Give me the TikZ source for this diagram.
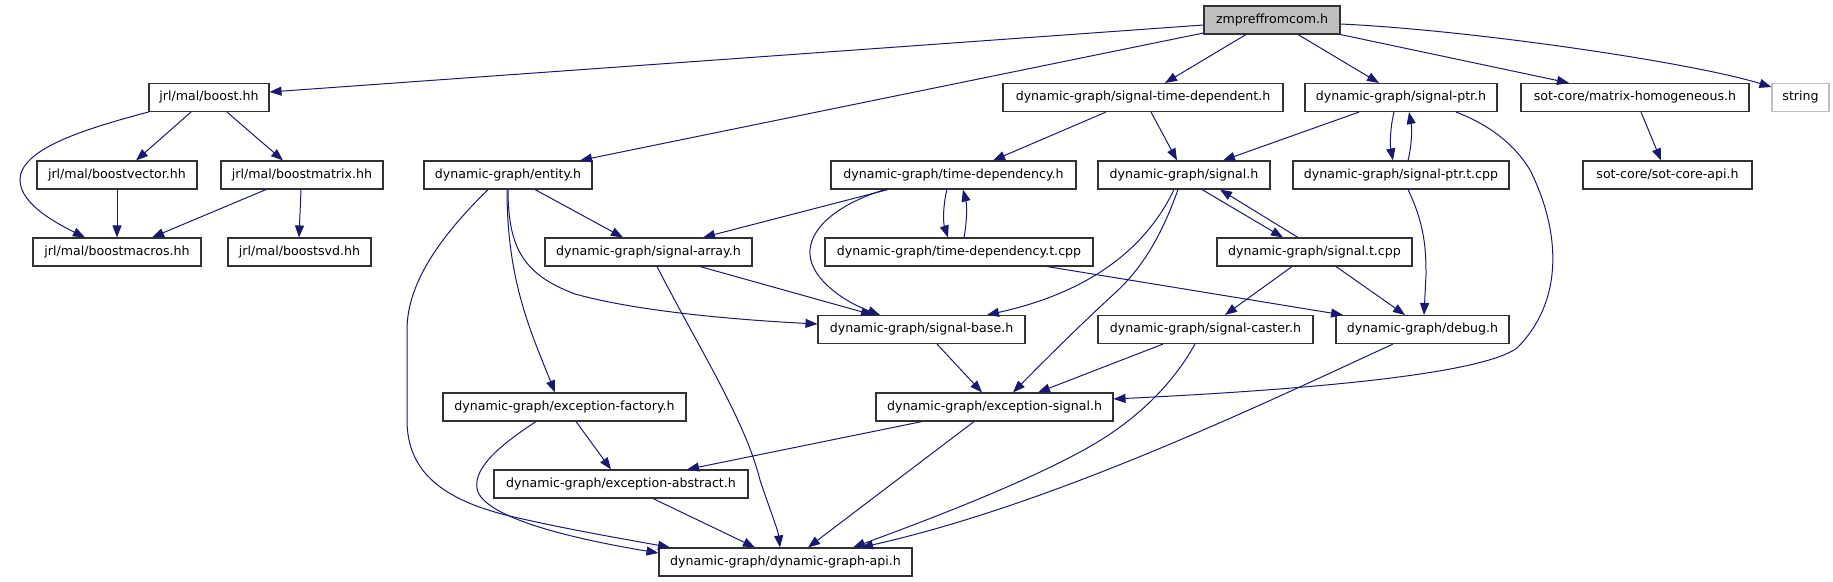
\documentclass[tikz,border=0pt]{standalone}
\usepackage{fontspec}
\setmainfont{DejaVu Sans}
\usetikzlibrary{arrows.meta}
\definecolor{edgeblue}{RGB}{25,25,112}
\definecolor{boxgray}{RGB}{191,191,191}
\definecolor{boxline}{RGB}{50,50,50}
\begin{document}
\begin{tikzpicture}[x=1pt,y=-1pt,
  file/.style={draw=boxline,line width=1.1pt,minimum height=28pt,inner sep=0pt,font=\fontsize{12.6}{14}\selectfont},
  e/.style={draw=edgeblue,line width=1pt,-{Triangle[length=12pt,width=9pt]}}]
\useasboundingbox (0,0) rectangle (1833,581);
% row 0
\node[file,fill=boxgray,minimum width=136pt] (zmp) at (1272,20) {zmpreffromcom.h};
% row 1
\node[file,minimum width=120pt] (boost) at (209,97.5) {jrl/mal/boost.hh};
\node[file,minimum width=280pt] (std) at (1143,97.5) {dynamic-graph/signal-time-dependent.h};
\node[file,minimum width=192pt] (sptr) at (1401,97.5) {dynamic-graph/signal-ptr.h};
\node[file,minimum width=228pt] (mh) at (1635,97.5) {sot-core/matrix-homogeneous.h};
\node[file,draw=boxgray,minimum width=57pt] (str) at (1800.5,97.5) {string};
% row 2
\node[file,minimum width=160pt] (bvec) at (117,175) {jrl/mal/boostvector.hh};
\node[file,minimum width=162pt] (bmat) at (302,175) {jrl/mal/boostmatrix.hh};
\node[file,minimum width=168pt] (ent) at (508,175) {dynamic-graph/entity.h};
\node[file,minimum width=245pt] (tdep) at (953.5,175) {dynamic-graph/time-dependency.h};
\node[file,minimum width=172pt] (sig) at (1184,175) {dynamic-graph/signal.h};
\node[file,minimum width=216pt] (sptrt) at (1401,175) {dynamic-graph/signal-ptr.t.cpp};
\node[file,minimum width=169pt] (sca) at (1667.5,175) {sot-core/sot-core-api.h};
% row 3
\node[file,minimum width=168pt] (bmac) at (117,252) {jrl/mal/boostmacros.hh};
\node[file,minimum width=143pt] (bsvd) at (299.5,252) {jrl/mal/boostsvd.hh};
\node[file,minimum width=207pt] (sarr) at (648.5,252) {dynamic-graph/signal-array.h};
\node[file,minimum width=268pt] (tdept) at (959,252) {dynamic-graph/time-dependency.t.cpp};
\node[file,minimum width=195pt] (sigt) at (1314.5,252) {dynamic-graph/signal.t.cpp};
% row 4
\node[file,minimum width=207pt] (sbase) at (921.5,329.5) {dynamic-graph/signal-base.h};
\node[file,minimum width=215pt] (scast) at (1205.5,329.5) {dynamic-graph/signal-caster.h};
\node[file,minimum width=173pt] (debug) at (1422.5,329.5) {dynamic-graph/debug.h};
% row 5
\node[file,minimum width=243pt] (efac) at (564.5,407) {dynamic-graph/exception-factory.h};
\node[file,minimum width=237pt] (esig) at (994.5,407) {dynamic-graph/exception-signal.h};
% row 6
\node[file,minimum width=254pt] (eabs) at (621,484) {dynamic-graph/exception-abstract.h};
% row 7
\node[file,minimum width=253pt] (api) at (785.5,562) {dynamic-graph/dynamic-graph-api.h};

% edges from zmpreffromcom.h
\draw[e] (zmp.west |- 0,25) -- (boost.east |- 0,92);
\draw[e] (zmp.west |- 0,33) -- (ent.north -| 580,0);
\draw[e] (zmp.south -| 1246,0) -- (std.north -| 1165,0);
\draw[e] (zmp.south -| 1298,0) -- (sptr.north -| 1379,0);
\draw[e] (zmp.south east) -- (mh.north -| 1569,0);
\draw[e] (zmp.east |- 0,24) .. controls (1470,30) and (1690,62) .. (str.west |- 0,87);
% boost
\draw[e] (boost.south west) .. controls (80,130) and (20,150) .. (20,180) .. controls (20,205) and (60,225) .. (bmac.north -| 85,0);
\draw[e] (boost.south -| 191,0) -- (bvec.north -| 136,0);
\draw[e] (boost.south -| 227,0) -- (bmat.north -| 283,0);
\draw[e] (bvec.south) -- (bmac.north);
\draw[e] (bmat.south -| 266,0) -- (bmac.north -| 152,0);
\draw[e] (bmat.south -| 301,0) -- (bsvd.north -| 299,0);
% entity
\draw[e] (ent.south -| 535,0) -- (sarr.north -| 623,0);
\draw[e] (ent.south -| 508,0) .. controls (508,250) and (525,275) .. (575,294) .. controls (640,312) and (740,320) .. (sbase.west |- 0,324);
\draw[e] (ent.south -| 507,0) .. controls (507,280) and (530,330) .. (efac.north -| 555,0);
\draw[e] (ent.south -| 488,0) .. controls (445,232) and (407,280) .. (407,330) -- (407,420) .. controls (407,470) and (440,500) .. (514,517) .. controls (570,530) and (630,540) .. (api.north -| 670,0);
% exception-factory
\draw[e] (efac.south -| 536,0) .. controls (500,445) and (470,470) .. (478,492) .. controls (490,520) and (580,540) .. (api.west |- 0,553);
\draw[e] (efac.south -| 576,0) -- (eabs.north -| 611,0);
% signal-time-dependent
\draw[e] (std.south -| 1106,0) -- (tdep.north -| 993,0);
\draw[e] (std.south -| 1151,0) -- (sig.north -| 1177,0);
% signal-ptr
\draw[e] (sptr.south -| 1359,0) -- (sig.north -| 1223,0);
\draw[e] (sptr.south -| 1394,0) .. controls (1390,128) and (1390,145) .. (sptrt.north -| 1393,0);
\draw[e] (sptrt.north -| 1408,0) .. controls (1412,145) and (1412,128) .. (sptr.south -| 1409,0);
\draw[e] (sptr.south -| 1456,0) .. controls (1490,125) and (1515,145) .. (1530,170) .. controls (1560,230) and (1565,300) .. (1517,348) .. controls (1480,375) and (1300,390) .. (esig.east |- 0,399);
% matrix-homogeneous
\draw[e] (mh.south -| 1641,0) -- (sca.north -| 1661,0);
% time-dependency
\draw[e] (tdep.south -| 888,0) -- (sarr.north -| 703,0);
\draw[e] (tdep.south -| 885,0) .. controls (835,205) and (808,230) .. (810,255) .. controls (812,280) and (845,302) .. (sbase.north -| 880,0);
\draw[e] (tdep.south -| 947,0) .. controls (943,205) and (943,222) .. (tdept.north -| 948,0);
\draw[e] (tdept.north -| 964,0) .. controls (967,222) and (967,205) .. (tdep.south -| 963,0);
\draw[e] (tdept.south -| 1047,0) -- (debug.north -| 1343,0);
% signal.h
\draw[e] (sig.south -| 1174,0) .. controls (1150,240) and (1100,290) .. (sbase.north -| 987,0);
\draw[e] (sig.south -| 1178,0) .. controls (1160,240) and (1140,270) .. (1115,293) .. controls (1080,325) and (1040,365) .. (esig.north -| 1013,0);
\draw[e] (sig.south -| 1202,0) -- (sigt.north -| 1283,0);
\draw[e] (sigt.north -| 1298,0) -- (sig.south -| 1220,0);
% signal.t.cpp
\draw[e] (sigt.south -| 1292,0) -- (scast.north -| 1225,0);
\draw[e] (sigt.south -| 1336,0) -- (debug.north -| 1405,0);
% signal-ptr.t.cpp
\draw[e] (sptrt.south -| 1408,0) .. controls (1425,225) and (1426,250) .. (1426,275) -- (debug.north -| 1424,0);
% signal-array
\draw[e] (sarr.south -| 700,0) -- (sbase.north -| 873,0);
\draw[e] (sarr.south -| 657,0) .. controls (700,350) and (745,420) .. (760,480) .. controls (770,510) and (778,530) .. (api.north -| 780,0);
% signal-base, signal-caster, debug
\draw[e] (sbase.south -| 937,0) -- (esig.north -| 982,0);
\draw[e] (scast.south -| 1163,0) -- (esig.north -| 1038,0);
\draw[e] (scast.south -| 1195,0) .. controls (1175,380) and (1140,420) .. (1080,452) .. controls (1010,490) and (900,530) .. (api.north -| 853,0);
\draw[e] (debug.south -| 1393,0) .. controls (1250,410) and (1050,505) .. (api.north -| 861,0);
% exception-signal, exception-abstract
\draw[e] (esig.south -| 922,0) -- (eabs.north -| 687,0);
\draw[e] (esig.south -| 974,0) -- (api.north -| 808,0);
\draw[e] (eabs.south -| 653,0) -- (api.north -| 755,0);
\end{tikzpicture}
\end{document}
